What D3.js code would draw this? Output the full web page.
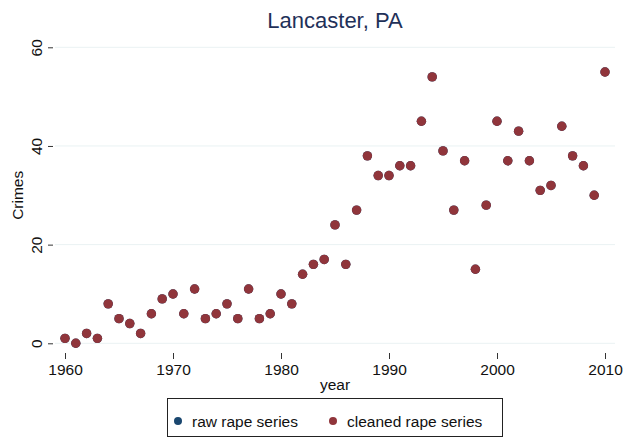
<!DOCTYPE html>
<html>
<head>
<meta charset="utf-8">
<script src="https://cdn.jsdelivr.net/npm/d3@7"></script>
<style>
  body { margin: 0; background: #fff; }
  text { font-family: "Liberation Sans", Arial, sans-serif; }
</style>
</head>
<body>
<div id="chart-container"></div>
<script>
// Data
const years = d3.range(1960, 2011);
const rawRape = [1, 0, 2, 1, 8, 5, 4, 2, 6, 9,
    10, 6, 11, 5, 6, 8, 5, 11, 5, 6,
    10, 8, 14, 16, 17, 24, 16, 27, 38, 34,
    34, 36, 36, 45, 54, 39, 27, 37, 15, 28,
    45, 37, 43, 37, 31, 32, 44, 38, 36, 30,
    55];
const cleanedRape = [1, 0, 2, 1, 8, 5, 4, 2, 6, 9,
    10, 6, 11, 5, 6, 8, 5, 11, 5, 6,
    10, 8, 14, 16, 17, 24, 16, 27, 38, 34,
    34, 36, 36, 45, 54, 39, 27, 37, 15, 28,
    45, 37, 43, 37, 31, 32, 44, 38, 36, 30,
    55];
const xTicks = [1960, 1970, 1980, 1990, 2000, 2010];
const yTicks = [0, 20, 40, 60];
const seriesNames = ["raw rape series", "cleaned rape series"];
const seriesColors = ["#1a476f", "#90353b"];

const width = 626;
const height = 440;
const fontSize = 15.5;

const svg = d3.select("#chart-container")
    .append("svg")
    .attr("width", width)
    .attr("height", height);

// scales
const xScale = d3.scaleLinear().domain([1960, 2010]).range([65, 605]);
const yScale = d3.scaleLinear().domain([0, 60]).range([343.3, 47.3]);

// grid lines
svg.append("g")
    .selectAll("line")
    .data(yTicks)
    .enter()
    .append("line")
    .attr("x1", 55)
    .attr("x2", 615)
    .attr("y1", (d) => yScale(d))
    .attr("y2", (d) => yScale(d))
    .attr("stroke", "#eaf2f3")
    .attr("stroke-width", 1);

// y axis
const yAxis = svg.append("g")
    .attr("transform", "translate(53, 0)")
    .call(d3.axisLeft(yScale).tickValues(yTicks).tickSize(5));
yAxis.select(".domain").remove();
yAxis.selectAll(".tick line").attr("stroke", "#333");
yAxis.selectAll(".tick text")
    .attr("font-size", fontSize)
    .attr("fill", "#111")
    .attr("transform", "rotate(-90)")
    .attr("x", 0)
    .attr("y", -11)
    .attr("dy", 0)
    .attr("text-anchor", "middle");

// x axis
const xAxis = svg.append("g")
    .attr("transform", "translate(0, 353)")
    .call(d3.axisBottom(xScale).tickValues(xTicks).tickFormat(d3.format("d")).tickSize(6));
xAxis.select(".domain").remove();
xAxis.selectAll(".tick line").attr("stroke", "#333");
xAxis.selectAll(".tick text")
    .attr("font-size", fontSize)
    .attr("fill", "#111")
    .attr("y", 22)
    .attr("dy", 0);

// axis titles
svg.append("text")
    .attr("x", xScale(1985))
    .attr("y", 390)
    .attr("text-anchor", "middle")
    .attr("font-size", fontSize)
    .attr("fill", "#111")
    .text("year");

svg.append("text")
    .attr("transform", `translate(23, ${yScale(30)}) rotate(-90)`)
    .attr("text-anchor", "middle")
    .attr("font-size", fontSize)
    .attr("fill", "#111")
    .text("Crimes");

// title
svg.append("text")
    .attr("x", 335)
    .attr("y", 28)
    .attr("text-anchor", "middle")
    .attr("font-size", 22)
    .attr("fill", "#1f3159")
    .text("Lancaster, PA");

// points: raw first, cleaned drawn on top
[rawRape, cleanedRape].forEach((series, s) => {
    svg.append("g")
        .selectAll("circle")
        .data(series)
        .enter()
        .append("circle")
        .attr("cx", (d, i) => xScale(years[i]))
        .attr("cy", (d) => yScale(d))
        .attr("r", 4.7)
        .attr("fill", seriesColors[s]);
});

// legend
const legend = svg.append("g");
legend.append("rect")
    .attr("x", 167.5)
    .attr("y", 398.5)
    .attr("width", 335)
    .attr("height", 38)
    .attr("fill", "#fff")
    .attr("stroke", "#222")
    .attr("stroke-width", 1);

const legendX = [178, 333];
seriesNames.forEach((name, i) => {
    legend.append("circle")
        .attr("cx", legendX[i])
        .attr("cy", 421)
        .attr("r", 4)
        .attr("fill", seriesColors[i]);
    legend.append("text")
        .attr("x", legendX[i] + 14)
        .attr("y", 427)
        .attr("font-size", fontSize)
        .attr("fill", "#111")
        .text(name);
});
</script>
</body>
</html>
